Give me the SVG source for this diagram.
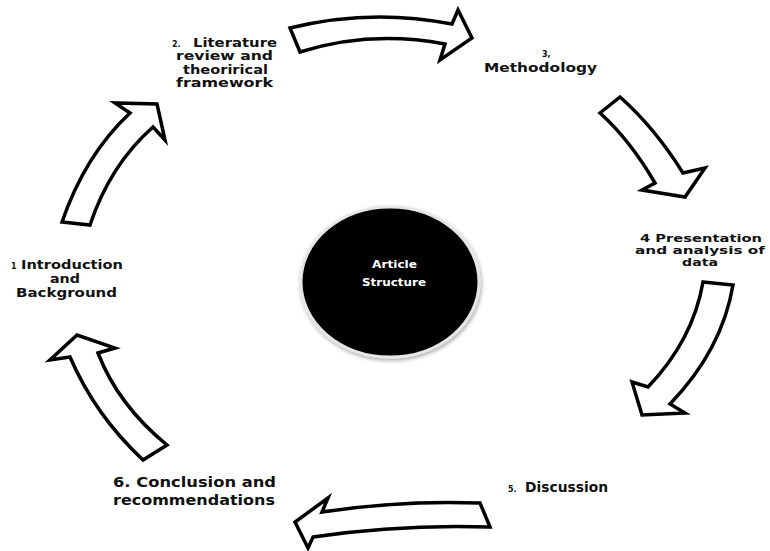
<svg xmlns="http://www.w3.org/2000/svg" width="770" height="551" viewBox="0 0 770 551">
<style>
.lbl{font-family:"DejaVu Sans","Liberation Sans",sans-serif;font-weight:bold;fill:#111;font-size:12.5px}
.big{font-size:13.5px}
.mid{font-size:12.5px}
.tight{font-size:11px}
.n2{font-size:11.5px}
.sm{font-size:8px}
.ctr{font-family:"DejaVu Sans","Liberation Sans",sans-serif;font-weight:bold;fill:#fff;font-size:11px}
.arr{fill:#fff;stroke:#000;stroke-width:3.5;stroke-linejoin:miter}
</style>
<defs>
<filter id="soft" x="-10%" y="-10%" width="120%" height="120%">
<feGaussianBlur stdDeviation="0.5"/>
</filter>
<filter id="sh" x="-20%" y="-20%" width="140%" height="140%">
<feGaussianBlur in="SourceAlpha" stdDeviation="2"/>
<feOffset dx="1" dy="2" result="b"/>
<feComponentTransfer><feFuncA type="linear" slope="0.35"/></feComponentTransfer>
<feMerge><feMergeNode/><feMergeNode in="SourceGraphic"/></feMerge>
</filter>
</defs>
<rect width="770" height="551" fill="#fff"/>

<g id="connectors" filter="url(#soft)">
<path class="arr" d="M290 28 Q370 8 452 24 L458 10 L472 38 L440 60 L445 44 Q370 30 300 52 Z"/>
<path class="arr" d="M620 97 Q655 128 683 173 L705 168 L685 197 L642 190 L655 183 Q630 140 600 113 Z"/>
<path class="arr" d="M703 282 L733 285 Q722 350 670 404 L685 413 L642 415 L632 382 L648 387 Q693 340 703 282 Z"/>
<path class="arr" d="M480 503 Q400 500 322 512 L328 498 L295 522 L308 548 L313 537 Q400 524 490 527 Z"/>
<path class="arr" d="M143 460 Q95 415 70 357 L50 360 L77 335 L115 348 L98 353 Q118 405 167 445 Z"/>
<path class="arr" d="M62 222 Q85 155 130 113 L115 103 L157 104 L165 140 L153 127 Q110 165 90 225 Z"/>
</g>

<g id="center">
<ellipse cx="390" cy="282" rx="89" ry="75" fill="#000" stroke="#e6e6e6" stroke-width="3" filter="url(#sh)"/>
<text class="ctr" x="372" y="268" textLength="45" lengthAdjust="spacingAndGlyphs">Article</text>
<text class="ctr" x="362" y="286" textLength="64" lengthAdjust="spacingAndGlyphs">Structure</text>
</g>

<g id="node2">
<text class="lbl sm" x="172" y="47">2.</text>
<text class="lbl n2" x="193" y="47" textLength="84" lengthAdjust="spacingAndGlyphs">Literature</text>
<text class="lbl n2" x="176" y="60" textLength="97" lengthAdjust="spacingAndGlyphs">review and</text>
<text class="lbl n2" x="183" y="74" textLength="85" lengthAdjust="spacingAndGlyphs">theorirical</text>
<text class="lbl n2" x="176" y="87" textLength="97" lengthAdjust="spacingAndGlyphs">framework</text>
</g>

<g id="node3">
<text class="lbl sm" x="542" y="57">3,</text>
<text class="lbl" x="484" y="72" textLength="113" lengthAdjust="spacingAndGlyphs">Methodology</text>
</g>

<g id="node4">
<text class="lbl tight" x="640" y="242" textLength="122" lengthAdjust="spacingAndGlyphs">4 Presentation</text>
<text class="lbl tight" x="635" y="254" textLength="130" lengthAdjust="spacingAndGlyphs">and analysis  of</text>
<text class="lbl tight" x="682" y="266" textLength="36" lengthAdjust="spacingAndGlyphs">data</text>
</g>

<g id="node1">
<text class="lbl sm" x="11" y="269">1</text>
<text class="lbl mid" x="21" y="269" textLength="102" lengthAdjust="spacingAndGlyphs">Introduction</text>
<text class="lbl mid" x="50" y="283" textLength="30" lengthAdjust="spacingAndGlyphs">and</text>
<text class="lbl mid" x="16" y="297" textLength="101" lengthAdjust="spacingAndGlyphs">Background</text>
</g>

<g id="node5">
<text class="lbl sm" x="508" y="492">5.</text>
<text class="lbl big" x="525" y="492" textLength="83" lengthAdjust="spacingAndGlyphs">Discussion</text>
</g>

<g id="node6">
<text class="lbl big" x="113" y="487" textLength="163" lengthAdjust="spacingAndGlyphs">6. Conclusion and</text>
<text class="lbl big" x="113" y="505" textLength="162" lengthAdjust="spacingAndGlyphs">recommendations</text>
</g>
</svg>
